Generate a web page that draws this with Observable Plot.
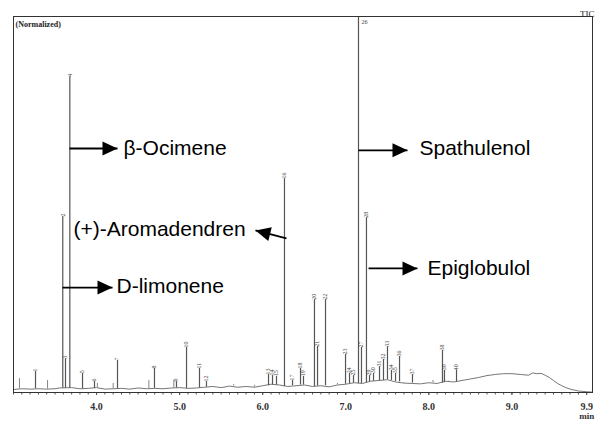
<!DOCTYPE html>
<html>
<head>
<meta charset="utf-8">
<script src="https://cdn.jsdelivr.net/npm/d3@7"></script>
<script src="https://cdn.jsdelivr.net/npm/@observablehq/plot@0.6"></script>
<style>
  html, body { margin: 0; padding: 0; background: #fff; }
  #chart svg { display: block; }
</style>
</head>
<body>
<div id="chart"></div>
<script>
// ---- Data ----
// labelled peaks: retention time (min), relative intensity (%), local baseline (%), peak number
const peakTime   = [3.265,3.593,3.626,3.678,3.831,3.975,4.252,4.697,4.962,5.083,5.239,5.323,6.070,6.118,6.166,6.262,6.359,6.455,6.491,6.623,6.660,6.756,6.997,7.045,7.093,7.153,7.189,7.249,7.286,7.334,7.406,7.454,7.502,7.550,7.599,7.647,7.803,8.164,8.188,8.333];
const peakHeight = [5.6,46.8,9.0,84.0,5.1,2.9,8.5,6.4,2.9,12.0,6.4,2.9,4.8,4.5,4.3,56.9,3.2,6.4,4.3,24.7,12.2,24.7,10.1,5.1,4.5,100,12.0,46.5,4.5,5.1,6.9,8.8,12.2,5.9,5.1,9.6,4.8,11.2,5.9,5.9];
const peakBase   = [1.0,1.1,1.1,1.1,1.0,1.1,1.0,1.1,1.2,1.1,1.2,1.4,1.8,2.0,2.0,1.6,1.8,2.0,2.0,1.6,1.7,1.8,2.2,2.4,2.5,2.4,2.4,2.6,2.8,3.0,3.1,3.2,3.4,3.2,2.9,2.8,2.5,2.5,2.6,2.8];
const peakNumber = d3.range(1, 41); // peaks are numbered in elution order

// small unlabelled peaks
const minorTime   = [3.072,3.410,4.010,4.200,4.630,4.930,5.650,5.900,6.900,7.700,8.050,8.240];
const minorHeight = [3.7,3.2,2.4,2.4,3.2,3.2,2.1,1.9,2.4,2.6,3.2,3.0];
const minorBase   = [1.0,0.9,1.3,1.0,1.0,1.2,1.7,1.4,2.0,2.5,2.6,2.9];

// baseline trace
const traceTime = [3.00,3.10,3.20,3.30,3.40,3.50,3.55,3.70,3.80,3.90,4.00,4.10,4.20,4.30,4.40,4.50,4.60,4.70,4.80,4.90,5.00,5.10,5.20,5.30,5.40,5.50,5.60,5.70,5.80,5.90,6.00,6.10,6.20,6.30,6.40,6.50,6.60,6.70,6.80,6.90,7.00,7.10,7.20,7.30,7.40,7.50,7.60,7.70,7.80,7.90,8.00,8.10,8.20,8.30,8.40,8.50,8.60,8.70,8.80,8.90,9.00,9.10,9.20,9.25,9.30,9.35,9.40,9.45,9.50,9.55,9.60,9.65,9.70,9.80,9.90,9.97];
const traceValue = [0.8,1.0,0.9,1.0,0.9,1.0,1.2,1.3,1.0,1.1,1.3,0.9,1.0,1.1,0.9,1.2,1.0,1.1,1.0,1.2,1.3,1.1,1.2,1.4,1.6,1.3,1.7,1.4,1.6,1.4,1.8,2.2,2.0,1.6,1.8,2.0,1.6,1.8,1.5,2.0,2.2,2.6,2.4,3.0,3.2,3.4,2.8,2.5,2.4,2.3,2.6,2.4,3.0,2.8,3.2,3.6,4.0,4.5,4.8,5.0,5.0,4.8,4.6,5.2,5.0,5.1,4.6,4.0,3.2,2.4,1.8,1.3,0.9,0.4,0.2,0.1];

// x axis tick labels
const tickLabels = [4.0,5.0,6.0,7.0,8.0,9.0,9.9];

// compound annotations: text position and arrow (tail -> tip), in (min, %)
const annLabel = ["β-Ocimene","(+)-Aromadendren","D-limonene","Spathulenol","Epiglobulol"];
const annTextT = [4.324,3.722,4.240,7.887,7.984];
const annTextI = [64.9,43.4,28.2,64.9,33.0];
const annFromT = [3.674,6.286,3.590,7.153,7.274];
const annFromI = [64.9,41.0,27.9,64.4,33.0];
const annToT   = [4.252,5.913,4.192,7.743,7.863];
const annToI   = [64.9,43.1,27.9,64.4,33.0];

// ---- Build tables ----
const peaks = peakTime.map((t, i) => ({t, h: peakHeight[i], b: peakBase[i], n: peakNumber[i]}));
const minors = minorTime.map((t, i) => ({t, h: minorHeight[i], b: minorBase[i]}));
const trace = traceTime.map((t, i) => ({t, v: traceValue[i]}));

const W = 600, H = 423;
const margin = {left: 13, right: 8, top: 16, bottom: 31};
const xDomain = [3.0, 9.97], yDomain = [0, 100];

const xs = Plot.scale({x: {domain: xDomain, range: [margin.left, W - margin.right]}});
const ys = Plot.scale({y: {domain: yDomain, range: [H - margin.bottom, margin.top]}});

const anns = annLabel.map((label, i) => {
  const dx = xs.apply(annToT[i]) - xs.apply(annFromT[i]);
  const dy = ys.apply(annToI[i]) - ys.apply(annFromI[i]);
  const angle = Math.atan2(dx, -dy) * 180 / Math.PI; // clockwise from "up"
  return {label, tx: annTextT[i], ty: annTextI[i], x1: annFromT[i], y1: annFromI[i], x2: annToT[i], y2: annToI[i], angle};
});

// filled arrowhead with its tip at the origin, pointing up
const arrowHead = {
  draw(context) {
    context.moveTo(0, 0);
    context.lineTo(-7, 15);
    context.lineTo(7, 15);
    context.closePath();
  }
};

const minorTicks = d3.range(30, 100).map(d => d / 10);

const chart = Plot.plot({
  width: W,
  height: H,
  marginLeft: margin.left,
  marginRight: margin.right,
  marginTop: margin.top,
  marginBottom: margin.bottom,
  x: {domain: xDomain},
  y: {domain: yDomain, axis: null},
  style: {fontFamily: "Liberation Sans, Arial, sans-serif", background: "#fff"},
  marks: [
    Plot.axisX({ticks: minorTicks, tickSize: 2.5, tickFormat: () => "", stroke: "#555"}),
    Plot.axisX({ticks: tickLabels, tickSize: 3, tickPadding: 7, tickFormat: d => d.toFixed(1),
      fontSize: 10, fontWeight: "bold", fontFamily: "Liberation Serif, serif", fill: "#333", stroke: "#555"}),
    Plot.line(trace, {x: "t", y: "v", stroke: "#666", strokeWidth: 0.9}),
    Plot.ruleX(minors, {x: "t", y1: "b", y2: "h", stroke: "#777", strokeWidth: 0.9}),
    Plot.ruleX(peaks, {x: "t", y1: "b", y2: "h", stroke: "#555", strokeWidth: 1.2}),
    Plot.text(peaks.filter(d => d.h < 99), {x: "t", y: "h", text: "n", rotate: -90, textAnchor: "start",
      fontSize: 6, fill: "#444", fontFamily: "Liberation Serif, serif"}),
    Plot.text(peaks.filter(d => d.h >= 99), {x: "t", y: "h", text: "n", dx: 6, dy: 6,
      fontSize: 6, fill: "#444", fontFamily: "Liberation Serif, serif"}),
    Plot.frame({stroke: "#333", strokeWidth: 1}),
    Plot.text(["(Normalized)"], {frameAnchor: "top-left", dx: 2, dy: 5, fontSize: 8, fontWeight: "bold",
      fontFamily: "Liberation Serif, serif", fill: "#222", textAnchor: "start"}),
    Plot.text(["TIC"], {frameAnchor: "top-right", dx: 2, dy: -6, fontSize: 9,
      fontFamily: "Liberation Serif, serif", fill: "#222", textAnchor: "end"}),
    Plot.text(["min"], {x: 9.9, frameAnchor: "bottom", dy: 26, fontSize: 9, fontWeight: "bold",
      fontFamily: "Liberation Serif, serif", fill: "#333"}),
    Plot.link(anns, {x1: "x1", y1: "y1", x2: "x2", y2: "y2", stroke: "#000", strokeWidth: 1.8}),
    Plot.dot(anns, {x: "x2", y: "y2", symbol: arrowHead, rotate: "angle", fill: "#000", stroke: "none"}),
    Plot.text(anns, {x: "tx", y: "ty", text: "label", textAnchor: "start", fontSize: 21, fill: "#000",
      fontFamily: "Liberation Sans, Arial, sans-serif"})
  ]
});

document.getElementById("chart").appendChild(chart);
</script>
</body>
</html>
